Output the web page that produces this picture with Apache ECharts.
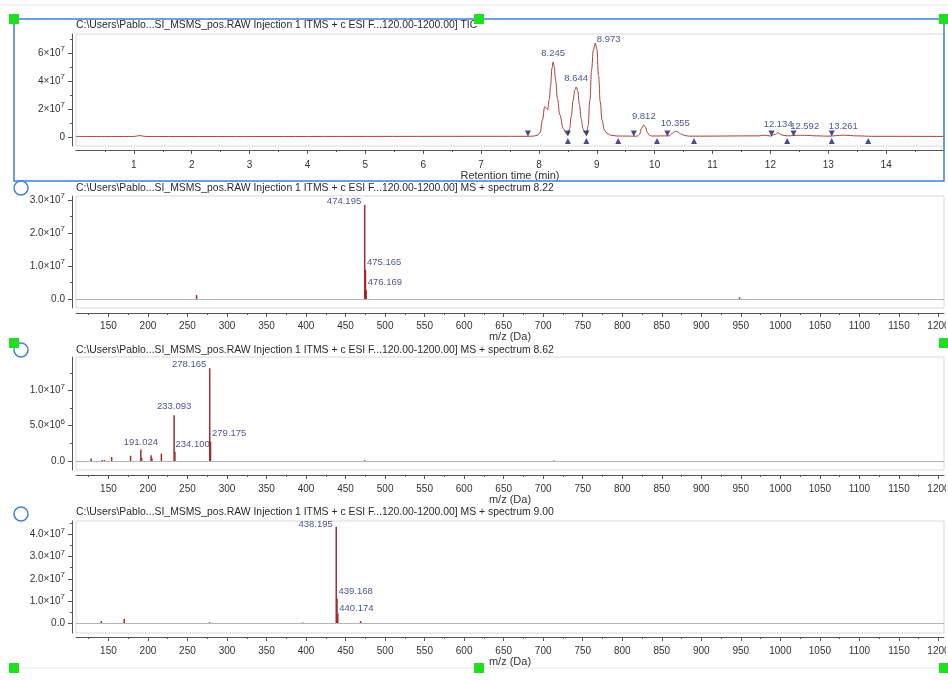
<!DOCTYPE html>
<html>
<head>
<meta charset="utf-8">
<script src="https://cdn.jsdelivr.net/npm/echarts@6/dist/echarts.min.js"></script>
<style>
  html, body { margin: 0; padding: 0; background: #fff; }
  #chart { width: 948px; height: 681px; }
</style>
</head>
<body>
<div id="chart"></div>
<script>
// ---- Total ion chromatogram: retention time (min) and summed intensity ----
const ticTime = [0, 1.0, 1.1, 1.2, 4.0, 7.8, 7.9, 7.97, 8.02, 8.06, 8.1, 8.12, 8.15, 8.18, 8.2,
  8.225, 8.245, 8.265, 8.29, 8.32, 8.36, 8.42, 8.47, 8.5, 8.53, 8.56, 8.59, 8.62, 8.644,
  8.67, 8.7, 8.73, 8.76, 8.79, 8.82, 8.85, 8.88, 8.91, 8.94, 8.973, 9.0, 9.03, 9.06, 9.09,
  9.13, 9.18, 9.25, 9.35, 9.7, 9.74, 9.77, 9.812, 9.84, 9.87, 9.91, 9.95, 10.25, 10.3, 10.355,
  10.4, 10.46, 10.52, 10.6, 11.8, 11.9, 12.0, 12.08, 12.134, 12.2, 12.3, 12.45, 12.592, 12.8,
  13.0, 13.261, 13.5, 13.75, 15.0];
const ticIntensity = [0.04e7, 0.04e7, 0.1e7, 0.04e7, 0.04e7, 0.05e7, 0.06e7, 0.12e7, 0.3e7,
  1.2e7, 2.16e7, 2.1e7, 1.95e7, 2.7e7, 3.6e7,
  4.9e7, 5.36e7, 5.0e7, 4.0e7, 2.75e7, 1.6e7, 0.6e7, 0.25e7, 0.2e7, 0.6e7, 1.5e7, 2.6e7, 3.35e7, 3.57e7,
  3.3e7, 2.3e7, 1.3e7, 0.6e7, 0.3e7, 0.2e7, 0.8e7, 2.6e7, 4.8e7, 6.2e7, 6.7e7, 6.3e7, 4.4e7, 2.5e7, 1.2e7,
  0.5e7, 0.25e7, 0.12e7, 0.07e7, 0.06e7, 0.2e7, 0.6e7, 0.86e7, 0.7e7, 0.35e7, 0.12e7, 0.07e7, 0.08e7, 0.25e7, 0.4e7,
  0.35e7, 0.2e7, 0.1e7, 0.06e7, 0.08e7, 0.13e7, 0.07e7, 0.18e7, 0.3e7, 0.14e7, 0.08e7, 0.12e7, 0.12e7, 0.08e7,
  0.06e7, 0.13e7, 0.08e7, 0.05e7, 0.04e7];

// Integrated peaks: apex retention times, their heights, and start / end markers
const ticPeakTime = [8.245, 8.644, 8.973, 9.812, 10.355, 12.134, 12.592, 13.261];
const ticPeakHeight = [5.36e7, 3.57e7, 6.7e7, 0.86e7, 0.4e7, 0.3e7, 0.12e7, 0.13e7];
const ticPeakStart = [7.81, 8.50, 8.82, 9.64, 10.22, 12.02, 12.40, 13.06];
const ticPeakEnd = [8.50, 8.82, 9.37, 10.04, 10.68, 12.29, 13.06, 13.69];

// ---- MS spectrum at 8.22 min ----
const ms822Mz = [261.5, 474.195, 475.165, 476.169, 948.4];
const ms822Int = [0.12e7, 2.85e7, 0.88e7, 0.27e7, 0.05e7];
const ms822Labeled = [474.195, 475.165, 476.169];

// ---- MS spectrum at 8.62 min ----
const ms862Mz = [128.1, 142.0, 145.0, 154.1, 178.0, 191.024, 192.0, 204.0, 205.0, 217.0,
  233.093, 234.100, 278.165, 279.175, 474.2, 713.5];
const ms862Int = [0.35e6, 0.15e6, 0.15e6, 0.55e6, 0.75e6, 1.62e6, 0.45e6, 0.8e6, 0.4e6, 1.05e6,
  6.5e6, 1.3e6, 13.15e6, 2.73e6, 0.1e6, 0.08e6];
const ms862Labeled = [191.024, 233.093, 234.100, 278.165, 279.175];

// ---- MS spectrum at 9.00 min ----
const ms900Mz = [141.0, 170.0, 278.0, 396.0, 438.195, 439.168, 440.174, 469.0];
const ms900Int = [0.1e7, 0.2e7, 0.05e7, 0.04e7, 4.34e7, 1.12e7, 0.45e7, 0.1e7];
const ms900Labeled = [438.195, 439.168, 440.174];

// ---- Tick values ----
const rtTicks = [1, 2, 3, 4, 5, 6, 7, 8, 9, 10, 11, 12, 13, 14];
const rtMinorTicks = [0.5, 1.5, 2.5, 3.5, 4.5, 5.5, 6.5, 7.5, 8.5, 9.5, 10.5, 11.5, 12.5, 13.5, 14.5];
const mzTicks = [150, 200, 250, 300, 350, 400, 450, 500, 550, 600, 650, 700, 750, 800, 850, 900,
  950, 1000, 1050, 1100, 1150, 1200];
const mzMinorTicks = [125, 175, 225, 275, 325, 375, 425, 475, 525, 575, 625, 675, 725, 775, 825,
  875, 925, 975, 1025, 1075, 1125, 1175];
const ticYTicks = [0, 2e7, 4e7, 6e7];
const ticYMinor = [1e7, 3e7, 5e7, 7e7];
const ms822YTicks = [0, 1e7, 2e7, 3e7];
const ms822YMinor = [0.5e7, 1.5e7, 2.5e7];
const ms862YTicks = [0, 5e6, 1e7];
const ms862YMinor = [2.5e6, 7.5e6, 12.5e6];
const ms900YTicks = [0, 1e7, 2e7, 3e7, 4e7];
const ms900YMinor = [0.5e7, 1.5e7, 2.5e7, 3.5e7, 4.5e7];

const titleStem = 'C:\\Users\\Pablo...SI_MSMS_pos.RAW Injection 1 ITMS + c ESI F...120.00-1200.00] ';

// ---- Styling ----
const FONT = '"Liberation Sans", Arial, sans-serif';
const AXIS_COLOR = '#555';
const TEXT_COLOR = '#333';
const PEAK_LABEL_COLOR = '#1e2878';
const TRACE_COLOR = '#a8403a';
const STICK_COLOR = '#a02c2c';
const MARKER_COLOR = '#1b1f6b';

// label placement for the annotated peaks, in the order of the *Labeled arrays
const ticLabelPlace = { 2: { position: 'right', distance: 1, offset: [0, -4] } };
const ms822Place = [
  { position: 'left', distance: 3, offset: [0, -4] },
  { position: 'right', distance: 1, offset: [0, -8] },
  { position: 'right', distance: 1, offset: [0, -8] }
];
const ms862Place = [
  { position: 'top', distance: 2 },
  { position: 'top', distance: 3 },
  { position: 'right', distance: 0, offset: [0, -7] },
  { position: 'left', distance: 3, offset: [0, -4] },
  { position: 'right', distance: 1, offset: [0, -8] }
];
const ms900Place = [
  { position: 'left', distance: 3, offset: [0, -2] },
  { position: 'right', distance: 1, offset: [0, -7] },
  { position: 'right', distance: 1, offset: [0, -5] }
];

// "6×10⁷" style tick labels
function sciLabel(v, digits) {
  if (v === 0) return '{m|' + (0).toFixed(digits) + '}';
  const e = Math.floor(Math.log10(v) + 1e-9);
  const m = (v / Math.pow(10, e)).toFixed(digits);
  return '{m|' + m + '×10}{e|' + e + '}';
}
const richSci = {
  m: { fontSize: 10, color: TEXT_COLOR, fontFamily: FONT, lineHeight: 16 },
  e: { fontSize: 8, color: TEXT_COLOR, fontFamily: FONT, lineHeight: 9, verticalAlign: 'top' }
};

const panels = [
  { title: titleStem + 'TIC', top: 34, height: 112, titleTop: 20, xOffset: 4,
    xMin: 0, xMax: 15, xTicks: rtTicks, xMinor: rtMinorTicks, xName: 'Retention time (min)', xMargin: 10,
    yMin: -6.43e6, yMax: 7.357e7, yTicks: ticYTicks, yMinor: ticYMinor, digits: 0 },
  { title: titleStem + 'MS + spectrum 8.22', top: 196, height: 112, titleTop: 183, xOffset: 5,
    xMin: 109, xMax: 1207, xTicks: mzTicks, xMinor: mzMinorTicks, xName: 'm/z (Da)', xMargin: 8,
    yMin: -2.73e6, yMax: 3.121e7, yTicks: ms822YTicks, yMinor: ms822YMinor, digits: 1 },
  { title: titleStem + 'MS + spectrum 8.62', top: 357, height: 113, titleTop: 345, xOffset: 5,
    xMin: 109, xMax: 1207, xTicks: mzTicks, xMinor: mzMinorTicks, xName: 'm/z (Da)', xMargin: 9,
    yMin: -1.28e6, yMax: 1.475e7, yTicks: ms862YTicks, yMinor: ms862YMinor, digits: 1 },
  { title: titleStem + 'MS + spectrum 9.00', top: 521, height: 112, titleTop: 507.5, xOffset: 4,
    xMin: 109, xMax: 1207, xTicks: mzTicks, xMinor: mzMinorTicks, xName: 'm/z (Da)', xMargin: 9,
    yMin: -4.36e6, yMax: 4.6e7, yTicks: ms900YTicks, yMinor: ms900YMinor, digits: 1 }
];

const grid = [], xAxis = [], yAxis = [], title = [];
const axisText = { fontSize: 10, color: TEXT_COLOR, fontFamily: FONT };

// main axes (grids 0..3)
panels.forEach((p, i) => {
  grid.push({ left: 76, right: 4, top: p.top, height: p.height, show: true,
    containLabel: false, outerBoundsMode: 'none',
    borderColor: '#d9d9d9', borderWidth: 1, backgroundColor: 'transparent' });
  title.push({ text: p.title, left: 76, top: p.titleTop, padding: 0,
    textStyle: { fontSize: 10.4, fontWeight: 'normal', color: '#2a2a2a', fontFamily: FONT } });
  xAxis.push({
    type: 'value', gridIndex: i, min: p.xMin, max: p.xMax, position: 'bottom', offset: p.xOffset,
    axisLine: { show: true, onZero: false, lineStyle: { color: AXIS_COLOR } },
    axisTick: { show: true, length: 4, customValues: p.xTicks, lineStyle: { color: AXIS_COLOR } },
    axisLabel: Object.assign({ customValues: p.xTicks, margin: p.xMargin, formatter: v => String(v) }, axisText),
    splitLine: { show: false },
    name: p.xName, nameLocation: 'middle', nameGap: 18,
    nameTextStyle: { fontSize: 11, color: TEXT_COLOR, fontFamily: FONT }
  });
  yAxis.push({
    type: 'value', gridIndex: i, min: p.yMin, max: p.yMax, position: 'left', offset: 4,
    axisLine: { show: true, onZero: false, lineStyle: { color: AXIS_COLOR } },
    axisTick: { show: true, length: 4, customValues: p.yTicks, lineStyle: { color: AXIS_COLOR } },
    axisLabel: { customValues: p.yTicks, margin: 7, formatter: v => sciLabel(v, p.digits), rich: richSci },
    splitLine: { show: false }
  });
});
// minor-tick axes on overlapping grids (4..7)
panels.forEach((p, i) => {
  grid.push({ left: 76, right: 4, top: p.top, height: p.height, show: false,
    containLabel: false, outerBoundsMode: 'none' });
  xAxis.push({
    type: 'value', gridIndex: 4 + i, min: p.xMin, max: p.xMax, position: 'bottom', offset: p.xOffset,
    axisLine: { show: false, onZero: false },
    axisTick: { show: true, length: 2, customValues: p.xMinor, lineStyle: { color: AXIS_COLOR } },
    axisLabel: { show: false }, splitLine: { show: false }
  });
  yAxis.push({
    type: 'value', gridIndex: 4 + i, min: p.yMin, max: p.yMax, position: 'left', offset: 4,
    axisLine: { show: false, onZero: false },
    axisTick: { show: true, length: 2, customValues: p.yMinor, lineStyle: { color: AXIS_COLOR } },
    axisLabel: { show: false }, splitLine: { show: false }
  });
});

const peakLabelStyle = { fontSize: 9.5, color: PEAK_LABEL_COLOR, fontFamily: FONT };

function spectrumSeries(k, mz, inten) {
  return {
    type: 'bar', xAxisIndex: k, yAxisIndex: k,
    data: mz.map((m, j) => [m, inten[j]]),
    barWidth: 1.5,
    itemStyle: { color: STICK_COLOR },
    markLine: {
      silent: true, symbol: 'none', label: { show: false },
      lineStyle: { color: '#b5b5b5', type: 'solid', width: 1 },
      data: [{ yAxis: 0 }]
    }
  };
}
function spectrumLabels(k, mz, inten, labeled, place) {
  return {
    type: 'scatter', xAxisIndex: k, yAxisIndex: k, symbolSize: 1,
    itemStyle: { color: 'transparent' }, z: 5,
    data: labeled.map((m, j) => ({
      value: [m, inten[mz.indexOf(m)]],
      label: place[j]
    })),
    label: Object.assign({ show: true, formatter: p => p.value[0].toFixed(3) }, peakLabelStyle)
  };
}

const series = [
  {
    type: 'line', xAxisIndex: 0, yAxisIndex: 0,
    data: ticTime.map((t, j) => [t, ticIntensity[j]]),
    symbol: 'none', smooth: 0.4, smoothMonotone: 'x',
    lineStyle: { color: TRACE_COLOR, width: 1 }
  },
  {
    type: 'scatter', xAxisIndex: 0, yAxisIndex: 0, symbolSize: 1,
    itemStyle: { color: 'transparent' }, z: 5,
    data: ticPeakTime.map((t, j) => Object.assign({ value: [t, ticPeakHeight[j]] },
      ticLabelPlace[j] ? { label: ticLabelPlace[j] } : {})),
    label: Object.assign({ show: true, position: 'top', distance: 3,
      formatter: p => p.value[0].toFixed(3) }, peakLabelStyle)
  },
  {
    type: 'scatter', xAxisIndex: 0, yAxisIndex: 0, z: 6,
    data: ticPeakStart.map(t => [t, 0]),
    symbol: 'triangle', symbolRotate: 180, symbolSize: [6, 6], symbolOffset: [0, -3.5],
    itemStyle: { color: MARKER_COLOR }
  },
  {
    type: 'scatter', xAxisIndex: 0, yAxisIndex: 0, z: 6,
    data: ticPeakEnd.map(t => [t, 0]),
    symbol: 'triangle', symbolSize: [6, 6], symbolOffset: [0, 4],
    itemStyle: { color: MARKER_COLOR }
  },
  spectrumSeries(1, ms822Mz, ms822Int),
  spectrumLabels(1, ms822Mz, ms822Int, ms822Labeled, ms822Place),
  spectrumSeries(2, ms862Mz, ms862Int),
  spectrumLabels(2, ms862Mz, ms862Int, ms862Labeled, ms862Place),
  spectrumSeries(3, ms900Mz, ms900Int),
  spectrumLabels(3, ms900Mz, ms900Int, ms900Labeled, ms900Place)
];

// selection frame, handles and panel markers of the viewer
const handleCenters = [[14, 19], [479, 19], [944, 19], [14, 343], [944, 343], [14, 668], [479, 668], [944, 668]];
const circleCenters = [[21, 188], [21, 350], [21, 514]];
const graphic = [
  { type: 'line', z: 100, shape: { x1: 0, y1: 5, x2: 948, y2: 5 }, style: { stroke: '#f3e3e3', lineWidth: 1 } },
  { type: 'line', z: 100, shape: { x1: 19, y1: 668, x2: 939, y2: 668 }, style: { stroke: '#e6e6e6', lineWidth: 1 } },
  { type: 'rect', z: 100, shape: { x: 946, y: 300, width: 3, height: 370 }, style: { fill: '#fff' } },
  { type: 'rect', z: 101, shape: { x: 14, y: 19, width: 930, height: 162 },
    style: { fill: 'none', stroke: '#3d7fd9', lineWidth: 1.5 } }
].concat(circleCenters.map(c => ({
  type: 'circle', z: 102, shape: { cx: c[0], cy: c[1], r: 7 },
  style: { fill: '#fff', stroke: '#4a80d0', lineWidth: 1.5 }
}))).concat(handleCenters.map(c => ({
  type: 'rect', z: 103, shape: { x: c[0] - 5, y: c[1] - 5, width: 10, height: 10 },
  style: { fill: '#1ee01e' }
})));

const chart = echarts.init(document.getElementById('chart'), null, { renderer: 'canvas' });
chart.setOption({
  animation: false,
  backgroundColor: '#fff',
  title, grid, xAxis, yAxis, series, graphic
});
</script>
</body>
</html>
